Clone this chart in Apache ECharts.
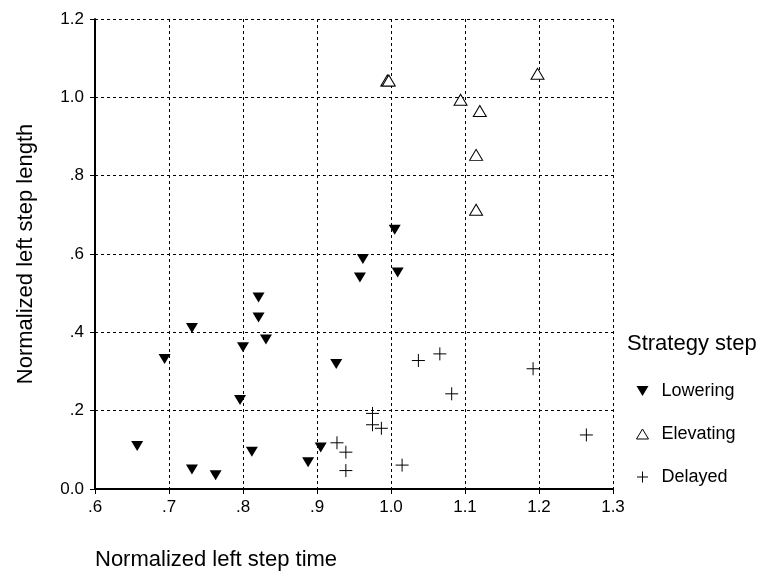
<!DOCTYPE html>
<html>
<head>
<meta charset="utf-8">
<script src="https://cdn.jsdelivr.net/npm/echarts@6/dist/echarts.min.js"></script>
<style>
  html, body { margin: 0; padding: 0; background: #fff; }
  #chart { width: 761px; height: 576px; }
</style>
</head>
<body>
<div id="chart"></div>
<script>
// Normalized step time (x) and step length (y) for each strategy group
const loweringTime   = [0.657, 0.694, 0.731, 0.731, 0.763, 0.796, 0.800, 0.821, 0.821, 0.831, 0.812, 0.888, 0.905, 0.926, 0.962, 0.958, 1.009, 1.005];
const loweringLength = [0.110, 0.332, 0.411, 0.050, 0.035, 0.227, 0.362, 0.489, 0.438, 0.382, 0.095, 0.068, 0.106, 0.319, 0.587, 0.540, 0.553, 0.662];

const elevatingTime   = [0.995, 0.997, 1.094, 1.120, 1.115, 1.115, 1.198];
const elevatingLength = [1.043, 1.043, 0.994, 0.965, 0.853, 0.713, 1.060];

const delayedTime   = [1.037, 1.066, 1.192, 1.082, 0.975, 0.975, 0.987, 0.927, 0.939, 0.939, 1.015, 1.264];
const delayedLength = [0.328, 0.345, 0.307, 0.243, 0.193, 0.164, 0.155, 0.118, 0.094, 0.047, 0.061, 0.138];

const seriesNames = ['Lowering', 'Elevating', 'Delayed'];
const xTicks = [0.6, 0.7, 0.8, 0.9, 1.0, 1.1, 1.2, 1.3];
const yTicks = [0, 0.2, 0.4, 0.6, 0.8, 1.0, 1.2];

const pairs = (xs, ys) => xs.map((x, i) => [x, ys[i]]);

// SPSS-style tick text: drop the leading zero below 1, keep "0.0"
function tickText(v) {
  const s = v.toFixed(1);
  if (Math.abs(v) < 1e-9) return '0.0';
  return v < 1 ? s.replace(/^0/, '') : s;
}

const FONT = 'Liberation Sans, Arial, sans-serif';
const symDown = 'path://M0,0L12,0L6,10Z';
const symUp = 'path://M6,0L12,10L0,10Z';
const symPlus = 'path://M6,0L6,12M0,6L12,6';

const chart = echarts.init(document.getElementById('chart'), null, { renderer: 'canvas' });

const gridLine = { show: true, lineStyle: { color: '#000', type: [3, 3], width: 1 } };

chart.setOption({
  animation: false,
  backgroundColor: '#fff',
  textStyle: { fontFamily: FONT, color: '#000' },
  title: [
    {
      text: 'Strategy step',
      left: 627, top: 333,
      padding: 0,
      textStyle: { fontFamily: FONT, fontSize: 22, fontWeight: 'normal', color: '#000' }
    },
    {
      text: 'Normalized left step time',
      left: 95, top: 549,
      padding: 0,
      textStyle: { fontFamily: FONT, fontSize: 22, fontWeight: 'normal', color: '#000' }
    }
  ],
  legend: {
    orient: 'vertical',
    left: 636, top: 382,
    padding: 0,
    itemWidth: 12, itemHeight: 11,
    itemGap: 25,
    itemStyle: { borderWidth: 1 },
    textStyle: { fontFamily: FONT, fontSize: 18, color: '#000', padding: [0, 0, 0, 8] },
    data: [
      { name: seriesNames[0], icon: symDown, itemStyle: { color: '#000', borderWidth: 0 } },
      { name: seriesNames[1], icon: symUp, itemStyle: { color: '#fff', borderColor: '#000', borderWidth: 1 } },
      { name: seriesNames[2], icon: symPlus, itemStyle: { color: 'rgba(0,0,0,0)', borderColor: '#000', borderWidth: 1 } }
    ]
  },
  grid: { left: 95, right: 148, top: 19, bottom: 87, containLabel: false },
  xAxis: {
    type: 'value',
    min: xTicks[0], max: xTicks[xTicks.length - 1], interval: 0.1,
    axisLine: { show: true, lineStyle: { color: '#000', width: 2 } },
    axisTick: { show: true, inside: false, length: 5, lineStyle: { color: '#000', width: 1 } },
    axisLabel: { fontFamily: FONT, fontSize: 17, color: '#000', margin: 10, formatter: tickText },
    splitLine: gridLine
  },
  yAxis: {
    type: 'value',
    min: yTicks[0], max: yTicks[yTicks.length - 1], interval: 0.2,
    name: 'Normalized left step length',
    nameLocation: 'middle',
    nameGap: 58,
    nameTextStyle: { fontFamily: FONT, fontSize: 22, color: '#000' },
    axisLine: { show: true, lineStyle: { color: '#000', width: 2 } },
    axisTick: { show: true, inside: false, length: 5, lineStyle: { color: '#000', width: 1 } },
    axisLabel: { fontFamily: FONT, fontSize: 17, color: '#000', margin: 11, formatter: tickText },
    splitLine: gridLine
  },
  series: [
    {
      name: seriesNames[0], type: 'scatter',
      symbol: symDown, symbolSize: [12, 10],
      itemStyle: { color: '#000', opacity: 1 },
      data: pairs(loweringTime, loweringLength)
    },
    {
      name: seriesNames[1], type: 'scatter',
      symbol: symUp, symbolSize: [13, 11],
      itemStyle: { color: '#fff', borderColor: '#000', borderWidth: 1, opacity: 1 },
      data: pairs(elevatingTime, elevatingLength)
    },
    {
      name: seriesNames[2], type: 'scatter',
      symbol: symPlus, symbolSize: [13, 13],
      itemStyle: { color: 'rgba(0,0,0,0)', borderColor: '#000', borderWidth: 1, opacity: 1 },
      data: pairs(delayedTime, delayedLength)
    }
  ]
});
</script>
</body>
</html>
